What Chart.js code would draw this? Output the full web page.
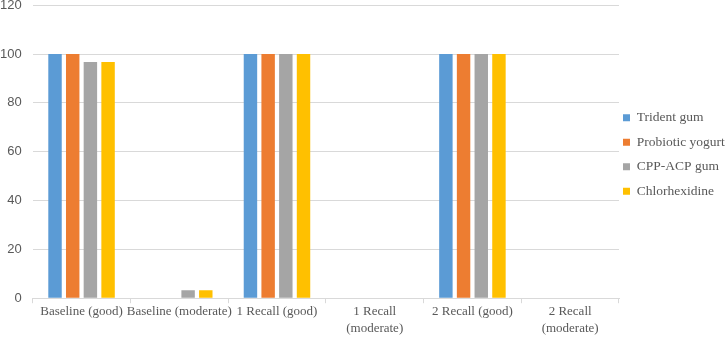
<!DOCTYPE html>
<html>
<head>
<meta charset="utf-8">
<script src="https://cdn.jsdelivr.net/npm/chart.js@4"></script>
<style>
  html, body { margin: 0; padding: 0; background: #fff; }
  #wrap { width: 727px; height: 337px; position: relative; }
</style>
</head>
<body>
<div id="wrap"><canvas id="gumChart"></canvas></div>
<script>
// groups along the x axis
const categories = [
  'Baseline (good)',
  'Baseline (moderate)',
  '1 Recall (good)',
  ['1 Recall', '(moderate)'],
  '2 Recall (good)',
  ['2 Recall', '(moderate)']
];

// percent of subjects per group
const tridentGum = [100, 0, 100, 0, 100, 0];
const probioticYogurt = [100, 0, 100, 0, 100, 0];
const cppAcpGum = [96.7, 3.3, 100, 0, 100, 0];
const chlorhexidine = [96.7, 3.3, 100, 0, 100, 0];

const yTicks = [0, 20, 40, 60, 80, 100, 120];

function bar(label, data, color) {
  return {
    label: label,
    data: data,
    backgroundColor: color,
    borderWidth: 0,
    barPercentage: 0.76,
    categoryPercentage: 0.724
  };
}

// narrow legend column on the right, nudged up and left like the original
const legendPlacement = {
  id: 'legendPlacement',
  afterInit(chart) {
    const fit = chart.legend.fit.bind(chart.legend);
    chart.legend.fit = function() {
      fit();
      this.width = 108;
    };
  },
  afterLayout(chart) {
    chart.legend.left -= 7;
    chart.legend.top -= 28;
  }
};

new Chart(document.getElementById('gumChart'), {
  type: 'bar',
  plugins: [legendPlacement],
  data: {
    labels: categories,
    datasets: [
      bar('Trident gum', tridentGum, '#5B9BD5'),
      bar('Probiotic yogurt', probioticYogurt, '#ED7D31'),
      bar('CPP-ACP gum', cppAcpGum, '#A5A5A5'),
      bar('Chlorhexidine', chlorhexidine, '#FFC000')
    ]
  },
  options: {
    responsive: true,
    maintainAspectRatio: false,
    animation: false,
    layout: {
      padding: { top: 0, right: 0, bottom: 0, left: 0 }
    },
    plugins: {
      tooltip: { enabled: false },
      legend: {
        position: 'right',
        align: 'center',
        labels: {
          boxWidth: 7,
          boxHeight: 7,
          padding: 11,
          color: '#595959',
          font: { family: '"Liberation Serif", "Times New Roman", serif', size: 13.5 }
        }
      }
    },
    scales: {
      x: {
        grid: {
          offset: true,
          drawOnChartArea: false,
          drawTicks: true,
          tickLength: 5,
          color: '#D9D9D9'
        },
        border: { display: true, color: '#D9D9D9' },
        ticks: {
          maxRotation: 0,
          autoSkip: false,
          color: '#595959',
          padding: 0,
          font: { family: '"Liberation Serif", "Times New Roman", serif', size: 13, lineHeight: 1.3 }
        }
      },
      y: {
        min: 0,
        max: 120,
        afterBuildTicks: function(axis) {
          axis.ticks = yTicks.map(v => ({ value: v }));
        },
        grid: {
          color: '#D9D9D9',
          drawTicks: true,
          tickLength: 11,
          tickColor: 'rgba(0,0,0,0)'
        },
        border: { display: false },
        ticks: {
          padding: 0,
          color: '#595959',
          font: { family: '"Liberation Sans", Arial, sans-serif', size: 13, lineHeight: 0.8 }
        }
      }
    }
  }
});
</script>
</body>
</html>
